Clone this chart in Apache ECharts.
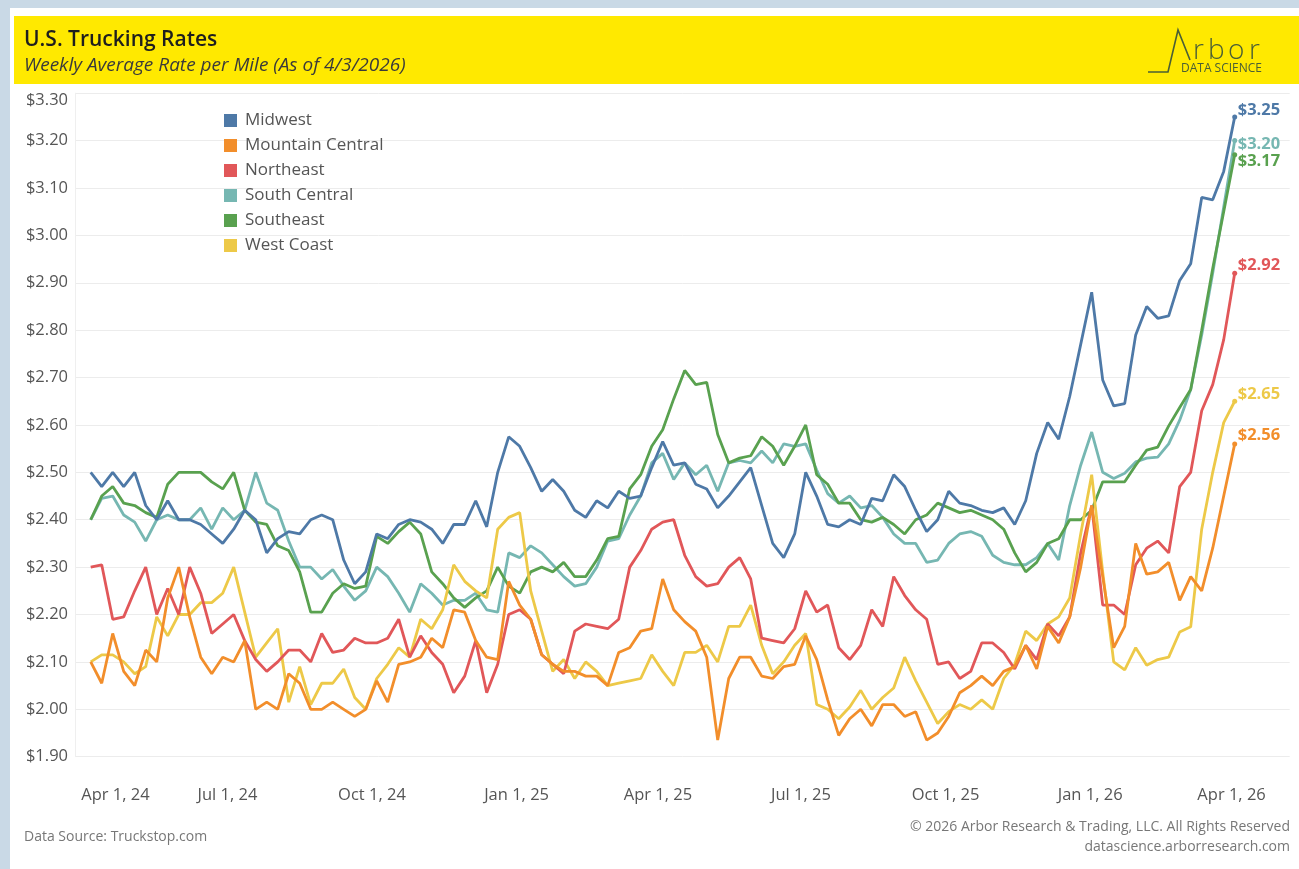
<!DOCTYPE html>
<html><head><meta charset="utf-8">
<script src="https://cdn.jsdelivr.net/npm/echarts@6/dist/echarts.min.js"></script>
<style>
html,body{margin:0;padding:0;width:1299px;height:869px;overflow:hidden;background:#c9d9e6;}
#card{position:absolute;left:10px;top:8px;width:1289px;height:861px;background:#fff;}
#chart{position:absolute;left:0;top:0;width:1299px;height:869px;}
</style></head><body>
<div id="card"></div><div id="chart"></div>
<script>
// ---- Data ----
const START_DATE = Date.UTC(2024, 3, 5);   // first weekly observation (Fri Apr 5, 2024)
const WEEK_COUNT = 105;                   // through Fri Apr 3, 2026
const weeks = [];
for (let i = 0; i < WEEK_COUNT; i++) weeks.push(START_DATE + i * 7 * 86400000);

const tickDates = [
  Date.UTC(2024,3,1), Date.UTC(2024,6,1), Date.UTC(2024,9,1), Date.UTC(2025,0,1),
  Date.UTC(2025,3,1), Date.UTC(2025,6,1), Date.UTC(2025,9,1), Date.UTC(2026,0,1), Date.UTC(2026,3,1)
];
const monthNames = ['Jan','Feb','Mar','Apr','May','Jun','Jul','Aug','Sep','Oct','Nov','Dec'];

const midwest = [
2.50,2.47,2.50,2.47,2.50,2.43,2.40,2.44,2.40,2.40,
2.39,2.37,2.35,2.38,2.42,2.40,2.33,2.36,2.375,2.37,
2.40,2.41,2.40,2.315,2.265,2.29,2.37,2.36,2.39,2.40,
2.395,2.38,2.35,2.39,2.39,2.44,2.385,2.50,2.575,2.555,
2.51,2.46,2.485,2.46,2.42,2.405,2.44,2.425,2.46,2.445,
2.45,2.51,2.565,2.515,2.52,2.475,2.465,2.425,2.45,2.48,
2.51,2.43,2.35,2.32,2.37,2.50,2.45,2.39,2.385,2.40,
2.39,2.445,2.44,2.495,2.47,2.42,2.375,2.40,2.46,2.435,
2.43,2.42,2.415,2.425,2.39,2.44,2.54,2.605,2.57,2.66,
2.77,2.88,2.695,2.64,2.645,2.79,2.85,2.825,2.83,2.905,
2.94,3.08,3.075,3.135,3.25];
const mountainCentral = [
2.10,2.055,2.16,2.08,2.05,2.125,2.10,2.235,2.30,2.195,
2.11,2.075,2.11,2.10,2.145,2.00,2.015,2.00,2.075,2.055,
2.00,2.00,2.015,2.00,1.985,2.00,2.06,2.015,2.095,2.10,
2.11,2.15,2.13,2.21,2.205,2.145,2.11,2.105,2.27,2.22,
2.19,2.115,2.095,2.08,2.08,2.07,2.07,2.05,2.12,2.13,
2.165,2.17,2.275,2.21,2.185,2.165,2.11,1.935,2.065,2.11,
2.11,2.07,2.065,2.09,2.095,2.155,2.105,2.02,1.945,1.98,
2.00,1.965,2.01,2.01,1.985,1.995,1.935,1.95,1.985,2.035,
2.05,2.07,2.05,2.08,2.09,2.135,2.085,2.175,2.14,2.195,
2.30,2.43,2.28,2.13,2.175,2.35,2.285,2.29,2.31,2.23,
2.28,2.25,2.34,2.45,2.56];
const northeast = [
2.30,2.305,2.19,2.195,2.25,2.30,2.20,2.255,2.20,2.30,
2.245,2.16,2.18,2.20,2.145,2.105,2.08,2.10,2.125,2.125,
2.10,2.16,2.12,2.125,2.15,2.14,2.14,2.15,2.19,2.11,
2.155,2.12,2.095,2.035,2.07,2.145,2.035,2.095,2.20,2.21,
2.19,2.115,2.095,2.075,2.165,2.18,2.175,2.17,2.19,2.30,
2.335,2.38,2.395,2.40,2.325,2.28,2.26,2.265,2.30,2.32,
2.275,2.15,2.145,2.14,2.17,2.25,2.205,2.22,2.13,2.105,
2.135,2.21,2.175,2.28,2.24,2.21,2.19,2.095,2.10,2.065,
2.08,2.14,2.14,2.12,2.085,2.135,2.105,2.18,2.155,2.195,
2.33,2.43,2.22,2.22,2.20,2.305,2.34,2.355,2.33,2.47,
2.50,2.63,2.685,2.78,2.92];
const southCentral = [
2.40,2.445,2.45,2.41,2.395,2.355,2.40,2.41,2.40,2.40,
2.425,2.38,2.425,2.40,2.42,2.50,2.435,2.42,2.355,2.30,
2.30,2.275,2.295,2.26,2.23,2.25,2.30,2.28,2.245,2.205,
2.265,2.245,2.22,2.23,2.23,2.245,2.21,2.205,2.33,2.32,
2.345,2.33,2.305,2.28,2.26,2.265,2.30,2.355,2.36,2.41,
2.45,2.52,2.54,2.485,2.52,2.495,2.515,2.46,2.52,2.525,
2.52,2.545,2.52,2.56,2.555,2.56,2.505,2.455,2.435,2.45,
2.425,2.43,2.405,2.37,2.35,2.35,2.31,2.315,2.35,2.37,
2.375,2.365,2.325,2.31,2.305,2.305,2.32,2.35,2.315,2.43,
2.515,2.585,2.50,2.487,2.498,2.522,2.53,2.532,2.56,2.61,
2.675,2.79,2.92,3.06,3.20];
const southeast = [
2.40,2.45,2.47,2.435,2.43,2.415,2.405,2.475,2.50,2.50,
2.50,2.48,2.465,2.50,2.42,2.395,2.39,2.345,2.335,2.29,
2.205,2.205,2.245,2.265,2.255,2.26,2.365,2.35,2.375,2.395,
2.37,2.29,2.265,2.235,2.215,2.235,2.25,2.30,2.26,2.245,
2.29,2.30,2.29,2.31,2.28,2.28,2.315,2.36,2.365,2.465,
2.495,2.555,2.59,2.655,2.715,2.685,2.69,2.58,2.52,2.53,
2.535,2.575,2.555,2.515,2.555,2.60,2.495,2.475,2.435,2.435,
2.40,2.395,2.405,2.39,2.37,2.40,2.41,2.435,2.425,2.415,
2.42,2.41,2.40,2.38,2.33,2.29,2.31,2.35,2.36,2.40,
2.40,2.42,2.48,2.48,2.48,2.515,2.547,2.553,2.598,2.637,
2.675,2.80,2.93,3.05,3.17];
const westCoast = [
2.10,2.115,2.115,2.10,2.075,2.09,2.195,2.155,2.20,2.20,
2.225,2.225,2.245,2.30,2.205,2.11,2.14,2.17,2.015,2.09,
2.01,2.055,2.055,2.085,2.025,2.00,2.065,2.095,2.13,2.11,
2.19,2.17,2.21,2.305,2.27,2.25,2.235,2.38,2.405,2.415,
2.25,2.165,2.08,2.105,2.065,2.10,2.08,2.05,2.055,2.06,
2.065,2.115,2.08,2.05,2.12,2.12,2.135,2.10,2.175,2.175,
2.22,2.135,2.075,2.10,2.135,2.16,2.01,2.00,1.98,2.005,
2.04,2.00,2.025,2.045,2.11,2.06,2.015,1.97,1.995,2.01,
2.00,2.02,2.00,2.065,2.095,2.165,2.145,2.18,2.195,2.235,
2.37,2.495,2.29,2.10,2.083,2.13,2.093,2.105,2.11,2.163,
2.174,2.38,2.50,2.605,2.65];

const regionNames = ['Midwest','Mountain Central','Northeast','South Central','Southeast','West Coast'];

// ---- Styles ----
const FONT = '"Open Sans", "DejaVu Sans", sans-serif';
const LOGO = '#4a5f35';
const styleMap = {
  'Midwest':          {color:'#4e79a7', off:[0,-7]},
  'Mountain Central': {color:'#f28e2b', off:[0,-9]},
  'Northeast':        {color:'#e15759', off:[0,-8]},
  'South Central':    {color:'#76b7b2', off:[0,4]},
  'Southeast':        {color:'#59a14f', off:[0,6]},
  'West Coast':       {color:'#edc948', off:[0,-7]}
};
const valuesMap = {
  'Midwest': midwest, 'Mountain Central': mountainCentral, 'Northeast': northeast,
  'South Central': southCentral, 'Southeast': southeast, 'West Coast': westCoast
};
const drawOrder = ['South Central','Southeast','West Coast','Northeast','Mountain Central','Midwest'];
const DAY = 86400000;
const lastIdx = WEEK_COUNT - 1;

const series = drawOrder.map((name, k) => {
  const st = styleMap[name];
  return {
    type: 'line', name: name,
    data: weeks.map((t, i) => [t, valuesMap[name][i]]),
    color: st.color,
    lineStyle: {width: 2.8, color: st.color},
    itemStyle: {color: st.color, borderWidth: 0},
    showSymbol: true, showAllSymbol: true, symbol: 'circle',
    symbolSize: (v, p) => (p.dataIndex === lastIdx ? 5 : 0),
    endLabel: {
      show: true, distance: 3, offset: st.off,
      formatter: p => '$' + p.value[1].toFixed(2),
      color: st.color, fontFamily: FONT, fontWeight: 'bold', fontSize: 16.5
    },
    emphasis: {disabled: true}, silent: true, z: 2 + k
  };
});

function fmtDate(v) {
  const d = new Date(v);
  return monthNames[d.getUTCMonth()] + ' ' + d.getUTCDate() + ', ' + String(d.getUTCFullYear()).slice(2);
}

function txt(x, y, text, extra) {
  return {type: 'text', x: x, y: y, silent: true,
    style: Object.assign({text: text, fontFamily: FONT, verticalAlign: 'middle', textVerticalAlign: 'middle'}, extra)};
}

const chart = echarts.init(document.getElementById('chart'), null, {renderer: 'canvas'});
chart.setOption({
  animation: false,
  backgroundColor: 'transparent',
  textStyle: {fontFamily: FONT},
  grid: {left: 75, right: 9.3, top: 93.2, bottom: 112.3, containLabel: false},
  legend: {
    orient: 'vertical', left: 224, top: 112, padding: 0, itemWidth: 13, itemHeight: 13, itemGap: 8,
    icon: 'rect', data: regionNames, selectedMode: false,
    itemStyle: {borderWidth: 0},
    textStyle: {color: '#555', fontSize: 17, fontFamily: FONT, lineHeight: 16, padding: [0,0,0,3]}
  },
  xAxis: {
    type: 'value',
    min: START_DATE - 10 * DAY,
    max: weeks[lastIdx] + 35 * DAY,
    splitLine: {show: false}, axisLine: {show: false}, axisTick: {show: false},
    axisLabel: {
      customValues: tickDates,
      formatter: (v) => (v === tickDates[0] ? '{first|' + fmtDate(v) + '}' : fmtDate(v)),
      color: '#555', fontSize: 16.5, fontFamily: FONT, margin: 30,
      rich: {first: {padding: [0,0,0,62], color: '#555', fontSize: 16.5, fontFamily: FONT}}
    }
  },
  yAxis: {
    type: 'value', min: 1.9, max: 3.3, interval: 0.1,
    axisLine: {show: true, lineStyle: {color: '#efefef'}},
    axisTick: {show: false},
    splitLine: {lineStyle: {color: '#ececec'}},
    axisLabel: {
      formatter: v => (Math.abs(v - 3.3) < 1e-6 ? '{top|$' + v.toFixed(2) + '}' : '$' + v.toFixed(2)),
      color: '#555', fontSize: 16.5, fontFamily: FONT, margin: 7,
      rich: {top: {padding: [14,0,0,0], color: '#555', fontSize: 16.5, fontFamily: FONT}}
    }
  },
  graphic: [
    {type: 'rect', shape: {x: 14, y: 16, width: 1285, height: 68}, style: {fill: '#ffe900'}, z: 0, silent: true},
    txt(24, 40, 'U.S. Trucking Rates', {fill: '#1e1e1e', fontSize: 21, fontWeight: 600}),
    txt(24, 66, 'Weekly Average Rate per Mile (As of 4/3/2026)', {fill: '#3a3a3a', fontSize: 19, fontStyle: 'italic'}),
    {type: 'polyline', shape: {points: [[1148,72],[1168,72],[1178,30],[1190,60]]}, style: {stroke: LOGO, lineWidth: 1.6, fill: null}, silent: true},
    txt(1193, 51, 'r', {fill: LOGO, fontSize: 28, fontWeight: 300}),
    txt(1208, 51, 'b', {fill: LOGO, fontSize: 28, fontWeight: 300}),
    txt(1228, 51, 'o', {fill: LOGO, fontSize: 28, fontWeight: 300}),
    txt(1249, 51, 'r', {fill: LOGO, fontSize: 28, fontWeight: 300}),
    txt(1262, 69, 'DATA SCIENCE', {fill: LOGO, fontSize: 12, align: 'right', textAlign: 'right'}),
    txt(24, 837, 'Data Source: Truckstop.com', {fill: '#777', fontSize: 14}),
    txt(1290, 827, '\u00A9 2026 Arbor Research & Trading, LLC. All Rights Reserved', {fill: '#777', fontSize: 14, align: 'right', textAlign: 'right'}),
    txt(1290, 847, 'datascience.arborresearch.com', {fill: '#777', fontSize: 14, align: 'right', textAlign: 'right'})
  ],
  series: series
});
</script></body></html>
